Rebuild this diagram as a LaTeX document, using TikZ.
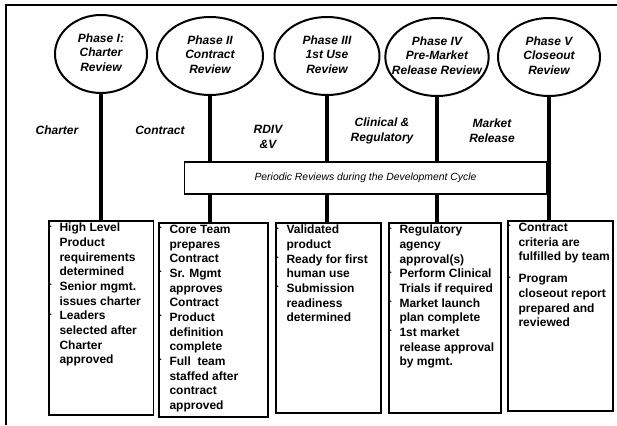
\documentclass[tikz,border=0pt]{standalone}
\usepackage{fontspec}
\setmainfont{Liberation Sans}
\usetikzlibrary{shapes.geometric,shadows}

\newcommand{\bitem}{\par\noindent\hangindent=7pt\hangafter=1%
  \makebox[7pt][l]{\kern-0.3pt\raisebox{2.6pt}{\fontsize{4}{4}\selectfont\textbullet}}}
\newcommand{\boxtext}[3]{\parbox[t][#2][t]{#1}{\raggedright\let\\\newline #3}}
\newcommand{\phasetext}[1]{\makebox[0pt]{\begin{tabular}{@{}c@{}}#1\end{tabular}}}

\begin{document}
\begin{tikzpicture}[x=0.75pt,y=-0.75pt,
  phase/.style={ellipse,draw,line width=1.5pt,inner sep=0pt,minimum height=58.5pt,
    font=\fontsize{9}{11}\selectfont\bfseries\itshape},
  stage/.style={align=center,font=\fontsize{9}{11.5}\selectfont\bfseries\itshape},
  stepbox/.style={draw,line width=1.3pt,fill=white,anchor=north west,inner xsep=1pt,
    inner ysep=1.6pt,font=\fontsize{9}{11}\selectfont\bfseries,
    drop shadow={shadow xshift=0.7pt,shadow yshift=-0.7pt,fill=gray!60}},
  stem/.style={line width=3pt},
  review/.style={draw,line width=1pt,fill=white,inner sep=0pt,
    font=\fontsize{7.8}{9}\selectfont\itshape}]

\useasboundingbox (0,0) rectangle (617,425);
\draw[line width=1.5pt] (617,5) -- (6,5) -- (6,425);

% phase reviews
\node[phase,minimum width=69pt] (phase1) at (101,54) {\phasetext{Phase I:\\Charter\\Review}};
\node[phase,minimum width=79.5pt] (phase2) at (210,56) {\phasetext{Phase II\\Contract\\Review}};
\node[phase,minimum width=78.75pt] (phase3) at (327,56) {\phasetext{Phase III\\1st Use\\Review}};
\node[phase,minimum width=77.5pt] (phase4) at (437,57) {\phasetext{Phase IV\\Pre-Market\\Release Review}};
\node[phase,minimum width=76.5pt] (phase5) at (549,57) {\phasetext{Phase V\\Closeout\\Review}};

% stages between the reviews
\node[stage] (charter) at (57,130) {Charter};
\node[stage] (contract) at (160,130) {Contract};
\node[stage] (rdiv) at (268,137) {RDIV\\\&V};
\node[stage] (clinical) at (382,131) {Clinical \&\\Regulatory};
\node[stage] (market) at (492,131) {Market\\Release};

% deliverables
\node[stepbox] (box1) at (48,220) {\boxtext{76.5pt}{142.5pt}{%
\bitem High Level\\Product\\requirements\\determined
\bitem Senior mgmt.\\issues charter
\bitem Leaders\\selected after\\Charter\\approved}};
\node[stepbox] (box2) at (158,222) {\boxtext{79.75pt}{142.5pt}{%
\bitem Core Team\\prepares\\Contract
\bitem Sr. Mgmt\\approves\\Contract
\bitem Product\\definition\\complete
\bitem Full~ team\\staffed after\\contract\\approved}};
\node[stepbox] (box3) at (275,222) {\boxtext{76.75pt}{139.5pt}{%
\bitem Validated\\product
\bitem Ready for first\\human use
\bitem Submission\\readiness\\determined}};
\node[stepbox] (box4) at (388,222) {\boxtext{82pt}{139.5pt}{%
\bitem Regulatory\\agency\\approval(s)
\bitem Perform Clinical\\Trials if required
\bitem Market launch\\plan complete
\bitem 1st market\\release approval\\by mgmt.}};
\node[stepbox] (box5) at (507,220) {\boxtext{76.75pt}{139.5pt}{%
\bitem Contract\\criteria are\\fulfilled by team
\par\vspace{5.5pt}
\bitem Program\\closeout report\\prepared and\\reviewed}};

\foreach \i in {1,...,5}
  \draw[stem] (phase\i.south) -- (phase\i.south |- box\i.north);

\node[review,minimum width=272pt,minimum height=24pt] (rev) at (365.5,178)
  {Periodic Reviews during the Development Cycle};
\end{tikzpicture}
\end{document}
